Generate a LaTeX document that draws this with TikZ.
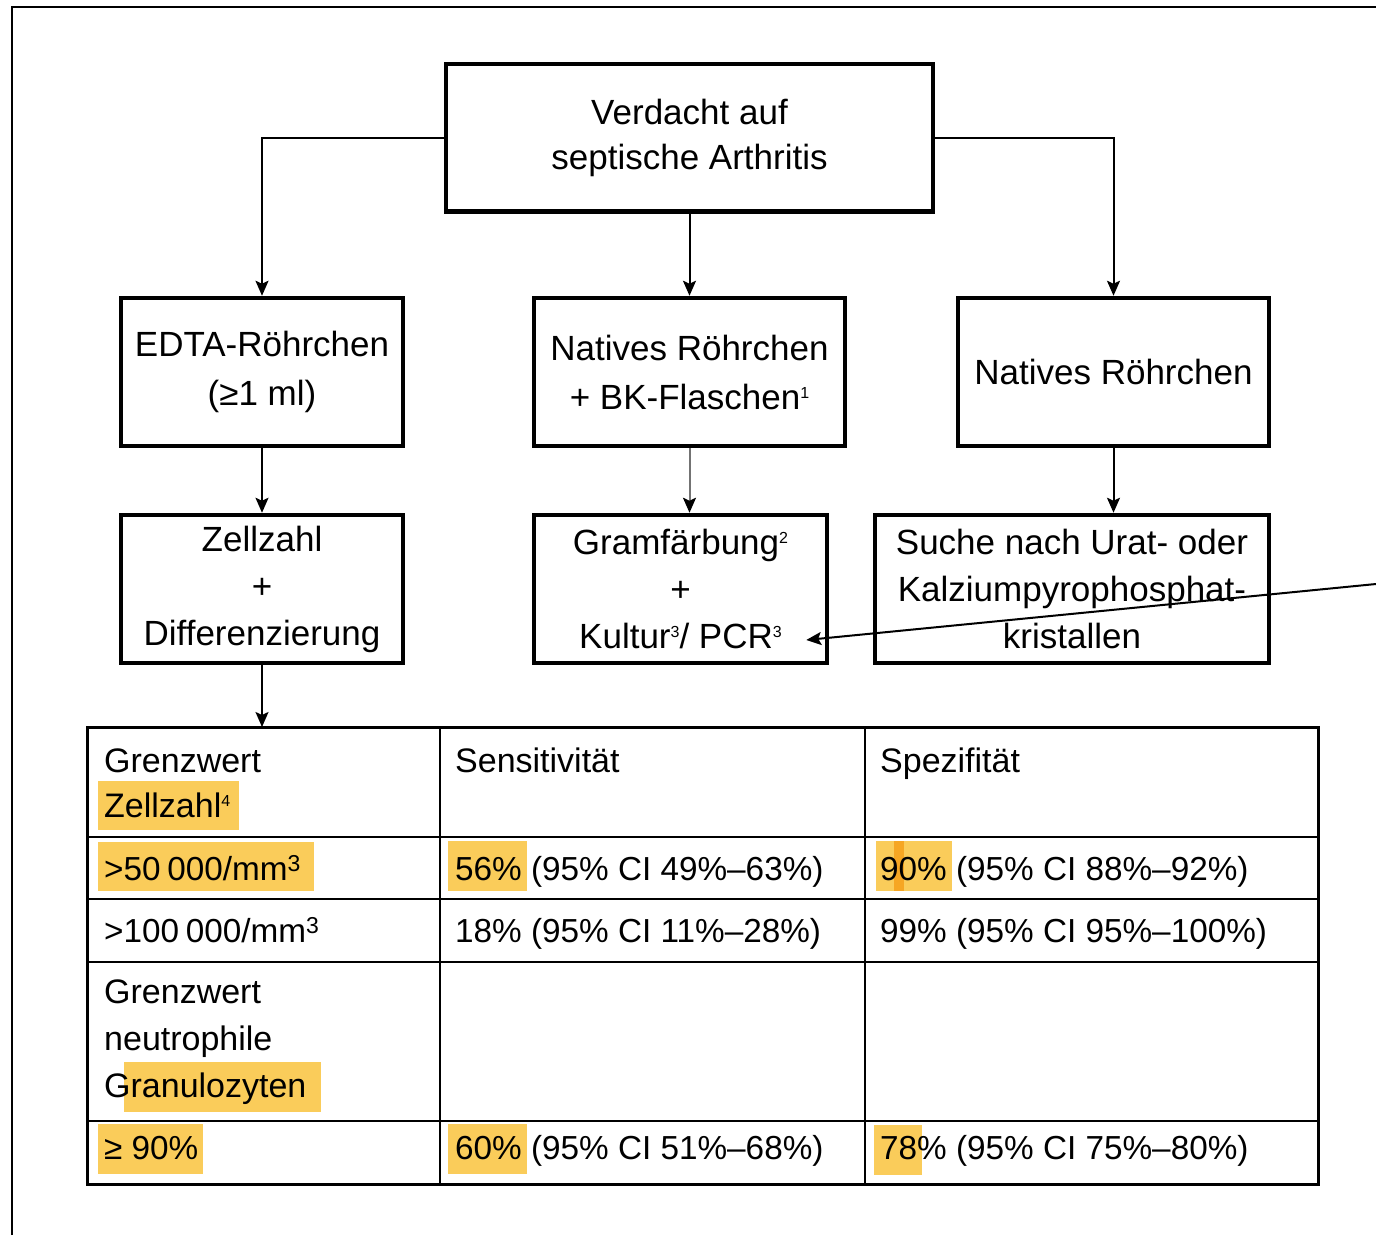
\documentclass[tikz,border=0pt]{standalone}
\usepackage{fontspec}
\setmainfont{Liberation Sans}
\usetikzlibrary{arrows.meta,calc}
\definecolor{hl}{RGB}{250,204,90}
\definecolor{hldark}{RGB}{246,166,35}
\newcommand\mysup[1]{\raisebox{8.5pt}{\fontsize{23}{23}\selectfont #1}}
\newcommand\mysupsmall[1]{\raisebox{11pt}{\fontsize{16}{16}\selectfont #1}}
\begin{document}
\begin{tikzpicture}[x=1pt,y=-1pt,
  box/.style={draw, line width=4.5pt, align=center, inner sep=0pt, font=\fontsize{35}{47}\selectfont},
  boxtwo/.style={box, font=\fontsize{35}{49}\selectfont},
  conn/.style={line width=2pt, -{Stealth[length=15pt,width=13pt,inset=3pt]}},
  cell/.style={anchor=base west, inner sep=0pt, font=\fontsize{34}{46}\selectfont},
  numcell/.style={cell, font=\fontsize{33.3}{46}\selectfont},
  grid/.style={line width=2pt},
  frame/.style={line width=2.2pt}]
\useasboundingbox (0,0) rectangle (1376,1235);
\fill[white] (0,0) rectangle (1376,1235);
% outer frame (cropped)
\draw[frame] (12.3,1235) -- (12.3,6.7) -- (1376,6.7);

% boxes
\node[box, font=\fontsize{35}{45}\selectfont, minimum width=487pt, minimum height=147.5pt] (top) at (689.5,137.5) {Verdacht auf\\septische Arthritis};
\node[boxtwo, minimum width=282pt, minimum height=148pt] (edta) at (262,372) {EDTA-Röhrchen\\(≥1 ml)};
\node[boxtwo, minimum width=311pt, minimum height=148pt] (bk) at (689.5,372) {Natives Röhrchen\\+ BK-Flaschen\mysupsmall{1}};
\node[box, minimum width=311pt, minimum height=148pt] (nat) at (1113.5,372) {Natives Röhrchen};
\node[box, minimum width=282pt, minimum height=148pt] (zell) at (262,589) {Zellzahl\\+\\Differenzierung};
\node[box, minimum width=293pt, minimum height=148pt] (gram) at (680.5,589) {Gramfärbung\mysupsmall{2}\\+\\Kultur\mysupsmall{3}/ PCR\mysupsmall{3}};
\node[box, minimum width=394pt, minimum height=148pt] (suche) at (1072,589) {Suche nach Urat- oder\\Kalziumpyrophosphat-\\kristallen};

% table outline
\node[draw, line width=2pt, minimum width=1229.7pt, minimum height=455.5pt, inner sep=0pt, anchor=north west] (tbl) at (87.3,727) {};

% highlights
\fill[hl] (98.3,781) rectangle (239.3,830);
\fill[hl] (98.3,841.5) rectangle (314,890.7);
\fill[hl] (448.3,841) rectangle (527.3,891);
\fill[hl] (875.7,841) rectangle (952.3,891);
\fill[hldark] (894.3,841) rectangle (904,891);
\fill[hl] (124.3,1061.7) rectangle (320.7,1111.7);
\fill[hl] (98.3,1124) rectangle (203.3,1174);
\fill[hl] (448.3,1124) rectangle (527.3,1174);
\fill[hl] (874.3,1125) rectangle (921.7,1175);

% table grid
\draw[grid] (tbl.north west) rectangle (tbl.south east);
\draw[grid] (87.3,837.3) -- (1317,837.3);
\draw[grid] (87.3,899.3) -- (1317,899.3);
\draw[grid] (87.3,961.7) -- (1317,961.7);
\draw[grid] (87.3,1120.5) -- (1317,1120.5);
\draw[grid] (440,727) -- (440,1182.5);
\draw[grid] (864.5,727) -- (864.5,1182.5);

% table text
\node[cell] (h1a) at (104,772) {Grenzwert};
\node[cell] (h1b) at (104,817) {Zellzahl\mysupsmall{4}};
\node[cell] (h2) at (455,772) {Sensitivität};
\node[cell] (h3) at (880,772) {Spezifität};
\node[numcell] (r1a) at (104,880) {>50\hspace{0.2em}000/mm\mysup{3}};
\node[numcell] (r1b) at (455,880) {56\% (95\% CI 49\%–63\%)};
\node[numcell] (r1c) at (880,880) {90\% (95\% CI 88\%–92\%)};
\node[numcell] (r2a) at (104,942) {>100\hspace{0.2em}000/mm\mysup{3}};
\node[numcell] (r2b) at (455,942) {18\% (95\% CI 11\%–28\%)};
\node[numcell] (r2c) at (880,942) {99\% (95\% CI 95\%–100\%)};
\node[cell] (r3a) at (104,1003) {Grenzwert};
\node[cell] (r3b) at (104,1050) {neutrophile};
\node[cell] (r3c) at (104,1097) {Granulozyten};
\node[numcell] (r4a) at (104,1159) {≥ 90\%};
\node[numcell] (r4b) at (455,1159) {60\% (95\% CI 51\%–68\%)};
\node[numcell] (r4c) at (880,1159) {78\% (95\% CI 75\%–80\%)};

% connectors
\draw[conn] (top.west) -| (edta.north);
\draw[conn] (top.east) -| (nat.north);
\draw[conn] (top.south) -- (bk.north);
\draw[conn] (edta.south) -- (zell.north);
\draw[line width=2pt, draw=black!55, -{Stealth[length=15pt,width=13pt,inset=3pt,color=black]}] (bk.south) -- (bk.south |- gram.north);
\draw[conn] (nat.south) -- (nat.south |- suche.north);
\draw[conn] (zell.south) -- (zell.south |- tbl.north);
\coordinate (ext) at (1376,584);
\draw[conn] (ext) -- ($(gram.east)+(-23,51)$);
\end{tikzpicture}
\end{document}
